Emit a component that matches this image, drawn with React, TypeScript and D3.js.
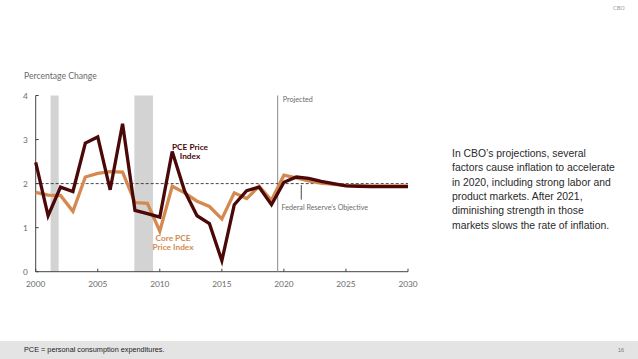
import React from "react";
import * as d3 from "d3";

const years = d3.range(2000, 2031);
const pce = [2.48, 1.27, 1.92, 1.82, 2.92, 3.06, 1.86, 3.36, 1.39, 1.32, 1.24, 2.73, 1.83, 1.27, 1.09, 0.25, 1.52, 1.84, 1.92, 1.52, 2.03, 2.15, 2.12, 2.05, 2.0, 1.95, 1.94, 1.93, 1.93, 1.93, 1.93];
const corePce = [1.8, 1.74, 1.73, 1.37, 2.15, 2.23, 2.27, 2.26, 1.57, 1.55, 0.92, 1.94, 1.79, 1.6, 1.48, 1.2, 1.79, 1.66, 1.94, 1.62, 2.19, 2.13, 2.06, 2.01, 1.98, 1.96, 1.95, 1.95, 1.95, 1.95, 1.95];
const recessions = [[2001.2, 2001.85], [2007.95, 2009.45]];
const yTicks = [0, 1, 2, 3, 4];
const xTicks = [2000, 2005, 2010, 2015, 2020, 2025, 2030];
const objective = 2;
const projectedStart = 2019.5;
const sideText = [
  "In CBO\u2019s projections, several",
  "factors cause inflation to accelerate",
  "in 2020, including strong labor and",
  "product markets. After 2021,",
  "diminishing strength in those",
  "markets slows the rate of inflation.",
];

export default function App() {
  const x = d3.scaleLinear().domain([2000, 2030]).range([35.7, 408]);
  const y = d3.scaleLinear().domain([0, 4]).range([271.7, 95.5]);
  const line = d3.line<number>().x((_, i) => x(years[i])).y((d) => y(d));
  const font = "Lato, 'Open Sans', sans-serif";
  const gray = "#6b6b6b";
  return (
    <svg width={638} height={359} style={{ position: "absolute", left: 0, top: 0, background: "#fff" }}>
      <text x={613} y={10} fontSize={5.5} fill="#999" fontFamily={font}>CBO</text>
      <text x={24} y={79} fontSize={8.6} fill={gray} fontFamily={font}>Percentage Change</text>
      {recessions.map(([a, b], i) => (
        <rect key={i} x={x(a)} y={y(4)} width={x(b) - x(a)} height={y(0) - y(4)} fill="#d3d3d3" />
      ))}
      {/* axes */}
      <line x1={x(2000)} x2={x(2000)} y1={y(4)} y2={y(0)} stroke="#444" strokeWidth={1} />
      <line x1={x(2000)} x2={x(2030)} y1={y(0)} y2={y(0)} stroke="#444" strokeWidth={1} />
      {yTicks.map((t) => (
        <g key={t}>
          <line x1={x(2000)} x2={x(2000) + 3} y1={y(t)} y2={y(t)} stroke="#444" />
          <text x={23} y={y(t) + 3} fontSize={8.3} fill={gray} fontFamily={font}>{t}</text>
        </g>
      ))}
      {xTicks.map((t) => (
        <g key={t}>
          <line x1={x(t)} x2={x(t)} y1={y(0)} y2={y(0) - 3} stroke="#444" />
          <text x={x(t)} y={287} fontSize={8.3} fill={gray} fontFamily={font} textAnchor="middle">{t}</text>
        </g>
      ))}
      {/* projected */}
      <line x1={x(projectedStart)} x2={x(projectedStart)} y1={y(4)} y2={y(0)} stroke="#888" strokeWidth={1} />
      <text x={x(projectedStart) + 5} y={102} fontSize={7.2} fill={gray} fontFamily={font}>Projected</text>
      <line x1={x(2000)} x2={x(2030)} y1={y(objective)} y2={y(objective)} stroke="#333" strokeWidth={0.9} strokeDasharray="3,2" />
      <line x1={x(2021.4)} x2={x(2021.4)} y1={y(objective) + 1.5} y2={y(objective) + 16} stroke="#333" strokeWidth={0.9} />
      <text x={x(2019.8)} y={210} fontSize={7.2} fill={gray} fontFamily={font}>Federal Reserve&#8217;s Objective</text>
      {/* lines */}
      <path d={line(corePce) || ""} fill="none" stroke="#d3894f" strokeWidth={3.3} strokeLinejoin="miter" />
      <path d={line(pce) || ""} fill="none" stroke="#4a0808" strokeWidth={3.3} strokeLinejoin="miter" />
      <text x={190} y={150} fontSize={8.3} fontWeight="bold" fill="#4a0808" fontFamily={font} textAnchor="middle">PCE Price</text>
      <text x={190} y={159} fontSize={8.3} fontWeight="bold" fill="#4a0808" fontFamily={font} textAnchor="middle">Index</text>
      <text x={173} y={241} fontSize={8.3} fontWeight="bold" fill="#d3894f" fontFamily={font} textAnchor="middle">Core PCE</text>
      <text x={173} y={250} fontSize={8.3} fontWeight="bold" fill="#d3894f" fontFamily={font} textAnchor="middle">Price Index</text>
      {/* side text */}
      {sideText.map((s, i) => (
        <text key={i} x={452} y={157 + i * 14.3} fontSize={10.4} fill="#2a2a2a" fontFamily="'Liberation Sans', Arial, sans-serif">{s}</text>
      ))}
      {/* footer */}
      <rect x={0} y={341} width={638} height={18} fill="#e4e4e4" />
      <text x={24} y={352} fontSize={7.3} fill="#222" fontFamily="'Liberation Sans', Arial, sans-serif">PCE = personal consumption expenditures.</text>
      <text x={618} y={352} fontSize={5.5} fill="#777" fontFamily="'Liberation Sans', Arial, sans-serif">16</text>
    </svg>
  );
}
